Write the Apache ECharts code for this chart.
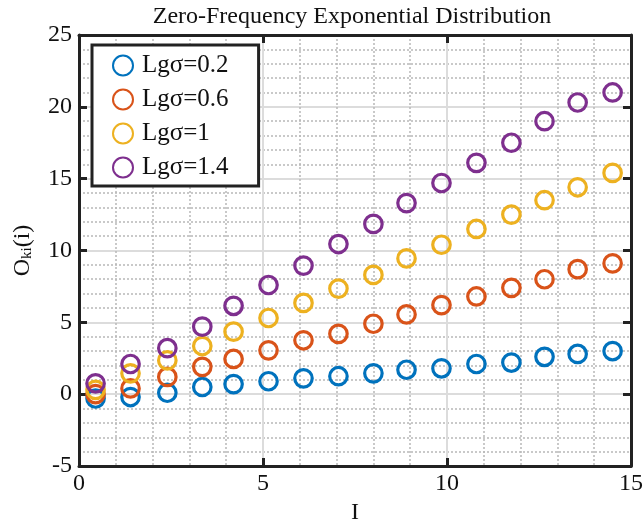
<!DOCTYPE html>
<html>
<head>
<meta charset="utf-8">
<script src="https://cdn.jsdelivr.net/npm/echarts@6/dist/echarts.min.js"></script>
<style>html,body{margin:0;padding:0;background:#fff;}#c{width:644px;height:521px;}</style>
</head>
<body>
<div id="c"></div>
<script>
const xValues = [0.45, 1.4, 2.4, 3.35, 4.2, 5.15, 6.1, 7.05, 8.0, 8.9, 9.85, 10.8, 11.75, 12.65, 13.55, 14.5];
const seriesNames = ['Lgσ=0.2', 'Lgσ=0.6', 'Lgσ=1', 'Lgσ=1.4'];
const lg02 = [-0.3, -0.2, 0.1, 0.5, 0.7, 0.9, 1.1, 1.25, 1.45, 1.7, 1.8, 2.1, 2.2, 2.6, 2.8, 3.0];
const lg06 = [0.0, 0.4, 1.2, 1.9, 2.45, 3.05, 3.75, 4.2, 4.9, 5.55, 6.2, 6.8, 7.4, 8.0, 8.7, 9.1];
const lg10 = [0.3, 1.45, 2.35, 3.35, 4.35, 5.3, 6.35, 7.35, 8.3, 9.45, 10.4, 11.5, 12.5, 13.5, 14.4, 15.4];
const lg14 = [0.75, 2.1, 3.2, 4.7, 6.15, 7.6, 8.95, 10.45, 11.85, 13.3, 14.7, 16.1, 17.5, 19.0, 20.3, 21.0];
const xTicks = [0, 5, 10, 15];
const yTicks = [-5, 0, 5, 10, 15, 20, 25];
const colors = ['#0072BD', '#D95319', '#EDB120', '#7E2F8E'];

const allY = [lg02, lg06, lg10, lg14];
const font = '"Liberation Serif", "Times New Roman", serif';

const series = allY.map((ys, i) => ({
  name: seriesNames[i],
  type: 'scatter',
  symbol: 'circle',
  symbolSize: 17.5,
  xAxisIndex: 0,
  yAxisIndex: 0,
  itemStyle: { color: 'rgba(255,255,255,0)', borderColor: colors[i], borderWidth: 3.2, opacity: 1 },
  emphasis: { disabled: true },
  data: xValues.map((x, k) => [x, ys[k]])
}));

const axisCommon = {
  type: 'value',
  axisLine: { show: true, onZero: false, lineStyle: { color: '#222', width: 3 } },
  axisTick: { show: true, inside: true, length: 8, lineStyle: { color: '#222', width: 3 } },
  minorTick: { show: false, splitNumber: 5 },
  minorSplitLine: { show: true, lineStyle: { color: '#b8b8b8', width: 1.5, type: [2, 2] } },
  splitLine: { show: true, lineStyle: { color: '#dcdcdc', width: 2 } }
};

const option = {
  backgroundColor: '#ffffff',
  animation: false,
  title: {
    text: 'Zero-Frequency Exponential Distribution',
    left: 347, top: 0, textAlign: 'center',
    textStyle: { fontFamily: font, fontSize: 24, fontWeight: 'normal', color: '#111' }
  },
  legend: {
    orient: 'vertical',
    left: 92, top: 45,
    backgroundColor: '#ffffff',
    borderColor: '#222', borderWidth: 3, borderRadius: 0,
    padding: [8, 30, 6, 20],
    itemGap: 9,
    itemWidth: 20, itemHeight: 20,
    textStyle: { fontFamily: font, fontSize: 25, lineHeight: 25, color: '#111', padding: [0, 0, 0, 4] },
    data: seriesNames
  },
  grid: { left: 79, right: 13, top: 35, bottom: 55, containLabel: false, outerBoundsMode: 'none' },
  xAxis: [
    Object.assign({}, axisCommon, {
      min: 0, max: 15, interval: 5, position: 'bottom',
      name: 'I', nameLocation: 'middle', nameGap: 30,
      nameTextStyle: { fontFamily: font, fontSize: 24, color: '#111' },
      axisLabel: { fontFamily: font, fontSize: 24, color: '#111', margin: 6,
        formatter: v => xTicks.includes(v) ? String(v) : '' }
    }),
    Object.assign({}, axisCommon, {
      min: 0, max: 15, interval: 5, position: 'top',
      axisLabel: { show: false },
      splitLine: { show: false }, minorSplitLine: { show: false }
    })
  ],
  yAxis: [
    Object.assign({}, axisCommon, {
      min: -5, max: 25, interval: 5, position: 'left',
      name: '{o|O}{s|ki}{o|(i)}', nameLocation: 'middle', nameGap: 44,
      nameTextStyle: {
        fontFamily: font, fontSize: 24, color: '#111',
        rich: {
          o: { fontFamily: font, fontSize: 24, color: '#111', verticalAlign: 'bottom', lineHeight: 28 },
          s: { fontFamily: font, fontSize: 15, color: '#111', verticalAlign: 'bottom', lineHeight: 18, padding: [10, 0, 0, 0] }
        }
      },
      axisLabel: { fontFamily: font, fontSize: 24, color: '#111', margin: 7,
        formatter: v => yTicks.includes(v) ? String(v) : '' }
    }),
    Object.assign({}, axisCommon, {
      min: -5, max: 25, interval: 5, position: 'right',
      axisLabel: { show: false },
      splitLine: { show: false }, minorSplitLine: { show: false }
    })
  ],
  series: series
};

const chart = echarts.init(document.getElementById('c'), null, { renderer: 'canvas' });
chart.setOption(option);
</script>
</body>
</html>
